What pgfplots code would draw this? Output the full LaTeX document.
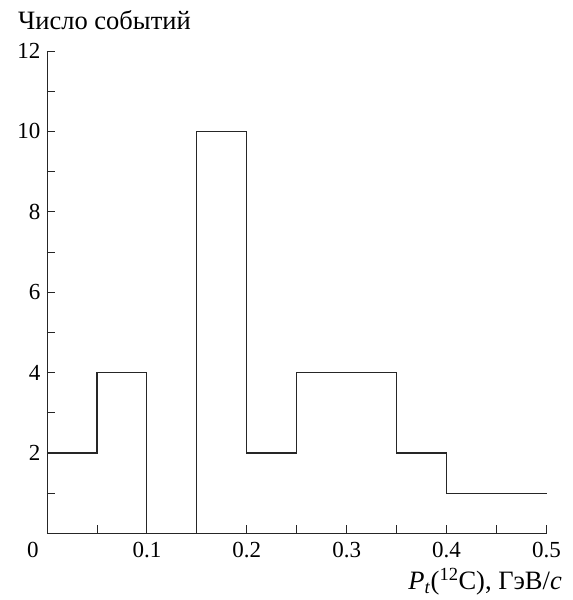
\documentclass[border=0pt]{standalone}
\usepackage{fontspec}
\setmainfont{Liberation Serif}
\usepackage{pgfplots}
\pgfplotsset{compat=1.18}
\begin{document}
\begin{tikzpicture}
\useasboundingbox (-47pt,-66.7pt) rectangle (526pt,533.3pt);
\begin{axis}[
  at={(0,0)}, anchor=origin,
  scale only axis, width=499.5pt, height=482.3pt,
  xmin=0, xmax=0.5, ymin=0, ymax=12,
  axis lines=left, axis line style={-, line width=0.8pt, black!85},
  tick align=inside, major tick length=8pt, minor tick length=8pt,
  tick style={line width=0.8pt, black!85},
  xtick={0.1,0.2,0.3,0.4,0.5}, minor xtick={0.05,0.15,0.25,0.35,0.45},
  ytick={2,4,6,8,10,12}, minor ytick={1,3,5,7,9,11},
  extra x ticks={0}, extra x tick style={xticklabel style={xshift=-14pt}},
  /pgf/number format/assume math mode=true,
  /pgf/number format/fixed,
  xticklabel style={font=\fontsize{23}{27}\selectfont, yshift=-5pt},
  yticklabel style={font=\fontsize{23}{27}\selectfont, xshift=-3pt},
  clip=false,
]
\addplot[const plot, line width=1.2pt, black!85] coordinates {
  (0,2) (0.05,4) (0.1,0) (0.15,10) (0.2,2) (0.25,4) (0.3,4) (0.35,2) (0.4,1) (0.45,1) (0.5,1)
};
\end{axis}
\node[anchor=base west, inner sep=0pt, font=\fontsize{26.5}{30}\selectfont] at (-29pt,503.3pt) {Число событий};
\node[anchor=base east, inner sep=0pt, font=\fontsize{26.5}{30}\selectfont] at (515pt,-56pt) {\textit{P}\textsubscript{\textit{t}}(\textsuperscript{12}C), ГэВ/\textit{c}};
\end{tikzpicture}
\end{document}
